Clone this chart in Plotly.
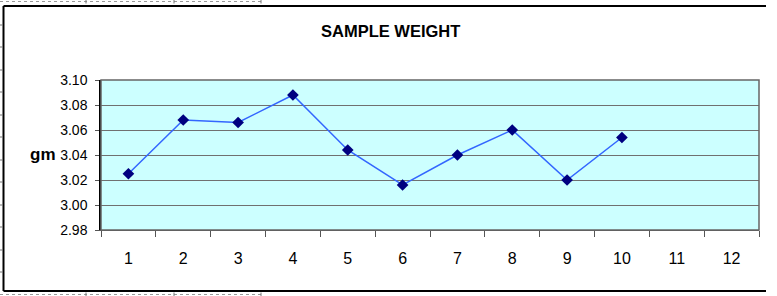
import plotly.graph_objects as go

categories = [str(i) for i in range(1, 13)]
weights = [3.025, 3.068, 3.066, 3.088, 3.044, 3.016, 3.040, 3.060, 3.020, 3.054, None, None]
y_ticks = [2.98, 3.00, 3.02, 3.04, 3.06, 3.08, 3.10]

W, H = 777, 296
L, R, T, B = 101, 759, 80, 230


def px(x):
    return (x - L) / (R - L)


def py(y):
    return (B - y) / (B - T)


fig = go.Figure()
fig.add_trace(go.Scatter(
    x=categories, y=weights, mode="lines+markers",
    line=dict(color="#3366FF", width=1.5),
    marker=dict(symbol="diamond", size=9, color="#000080"),
    connectgaps=False, showlegend=False, hoverinfo="skip",
))

shapes = []
# outer chart border (right edge off-canvas)
for (x0, y0, x1, y1) in [(3.5, 6, 766, 6), (3.5, 291, 766, 291), (3.5, 6, 3.5, 291)]:
    shapes.append(dict(type="line", xref="paper", yref="paper",
                       x0=px(x0), x1=px(x1), y0=py(y0), y1=py(y1),
                       line=dict(color="black", width=2)))
# spreadsheet cell lines (top and bottom)
for yy in (1.5, 294.5):
    shapes.append(dict(type="line", xref="paper", yref="paper",
                       x0=px(0), x1=px(261), y0=py(yy), y1=py(yy),
                       line=dict(color="#999999", width=1, dash="dot")))
    for xx in (86, 174, 261):
        shapes.append(dict(type="line", xref="paper", yref="paper",
                           x0=px(xx), x1=px(xx), y0=py(yy - 2), y1=py(yy + 2),
                           line=dict(color="#777777", width=1)))
# row marks on left border
for yy in (25, 47, 70, 92, 115, 137, 160, 182, 205, 227, 250, 272):
    shapes.append(dict(type="line", xref="paper", yref="paper",
                       x0=px(0), x1=px(3), y0=py(yy), y1=py(yy),
                       line=dict(color="#777777", width=1)))
# plot area frame (top/right grey)
shapes.append(dict(type="rect", xref="paper", yref="paper", x0=0, x1=1, y0=0, y1=1,
                   line=dict(color="#666666", width=1.5), fillcolor="rgba(0,0,0,0)", layer="above"))

fig.update_layout(
    width=W, height=H,
    margin=dict(l=L, r=W - R, t=T, b=H - B, pad=0),
    paper_bgcolor="white",
    plot_bgcolor="#CCFFFF",
    font=dict(family="Arial, Liberation Sans, sans-serif", color="black"),
    shapes=shapes,
    annotations=[
        dict(text="<b>SAMPLE WEIGHT</b>", xref="paper", yref="paper",
             x=px(390), y=py(31), showarrow=False, font=dict(size=16.5),
             xanchor="center", yanchor="middle"),
        dict(text="<b>gm</b>", xref="paper", yref="paper",
             x=px(58), y=py(154), showarrow=False, font=dict(size=17),
             xanchor="right", yanchor="middle"),
    ],
)
fig.update_xaxes(
    type="category", categoryorder="array", categoryarray=categories,
    range=[-0.5, 11.5], tickson="boundaries", ticks="outside", ticklen=6,
    tickcolor="#555555", tickwidth=1,
    showline=True, linecolor="#555555", linewidth=1, showgrid=False,
    tickfont=dict(size=16), ticklabelstandoff=14, zeroline=False,
)
fig.update_yaxes(
    range=[2.98, 3.10], tickvals=y_ticks, tickformat=".2f",
    ticks="outside", ticklen=4, tickcolor="#555555",
    showline=True, linecolor="black", linewidth=1.5,
    showgrid=True, gridcolor="#707070", gridwidth=1,
    tickfont=dict(size=14), ticklabelstandoff=5, zeroline=False,
)

fig.write_html("out.html", config={"displayModeBar": False},
               post_script="document.body.style.margin='0';document.body.style.padding='0';document.body.style.overflow='hidden';")
